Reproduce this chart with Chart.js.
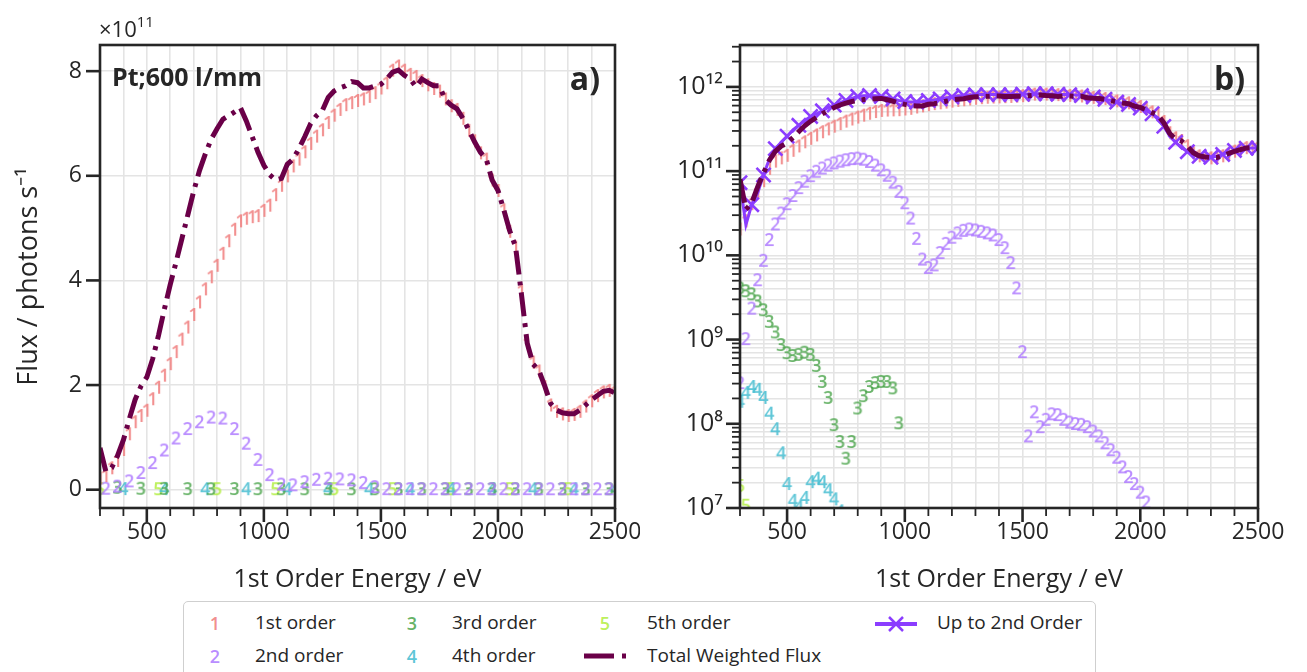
<!DOCTYPE html>
<html><head><meta charset="utf-8">
<script src="https://cdn.jsdelivr.net/npm/chart.js"></script>
<style>
html,body{margin:0;padding:0;background:#fff}
body{width:1307px;height:672px;overflow:hidden;position:relative;font-family:'Open Sans',sans-serif;color:#262626}
canvas.chart{position:absolute;top:0}
.t{position:absolute;white-space:nowrap;line-height:1}
.lg{position:absolute;white-space:nowrap;line-height:1;font-size:19px}
.mk{position:absolute;width:20px;text-align:center;line-height:1;font-size:18px;font-weight:600}
</style></head><body>
<canvas id="left" class="chart" width="640" height="600" style="left:0"></canvas>
<canvas id="right" class="chart" width="667" height="600" style="left:640px"></canvas>

<div class="t" style="left:99px;top:17px;font-size:22px">×10<span style="font-size:15px;position:relative;top:-10px">11</span></div>
<div class="t" style="left:112px;top:64px;font-size:25px;font-weight:700">Pt;600 l/mm</div>
<div class="t" style="right:707px;top:62px;font-size:32px;font-weight:700">a)</div>
<div class="t" style="right:62px;top:62px;font-size:32px;font-weight:700">b)</div>

<div style="position:absolute;left:183px;top:601px;width:911px;height:90px;border:1.5px solid #cfcfcf;border-radius:5px;background:#fff"></div>
<div class="mk" style="left:205px;top:614px;color:rgba(240,128,128,0.9)">1</div>
<div class="lg" style="left:255px;top:613px">1st order</div>
<div class="mk" style="left:402px;top:614px;color:rgba(76,165,76,0.85)">3</div>
<div class="lg" style="left:452px;top:613px">3rd order</div>
<div class="mk" style="left:595px;top:614px;color:rgba(180,238,70,0.9)">5</div>
<div class="lg" style="left:647px;top:613px">5th order</div>
<svg style="position:absolute;left:873px;top:613px" width="46" height="22"><line x1="2" y1="11" x2="44" y2="11" stroke="#8b3dff" stroke-width="4"/><line x1="16" y1="4" x2="30" y2="18" stroke="#8b3dff" stroke-width="2.5"/><line x1="16" y1="18" x2="30" y2="4" stroke="#8b3dff" stroke-width="2.5"/></svg>
<div class="lg" style="left:937px;top:613px">Up to 2nd Order</div>
<div class="mk" style="left:205px;top:647px;color:rgba(176,125,255,0.9)">2</div>
<div class="lg" style="left:255px;top:646px">2nd order</div>
<div class="mk" style="left:402px;top:647px;color:rgba(72,190,210,0.9)">4</div>
<div class="lg" style="left:452px;top:646px">4th order</div>
<svg style="position:absolute;left:582px;top:645px" width="50" height="22"><line x1="2" y1="11" x2="32" y2="11" stroke="#6a0048" stroke-width="5"/><line x1="40" y1="11" x2="44" y2="11" stroke="#6a0048" stroke-width="5"/></svg>
<div class="lg" style="left:647px;top:646px">Total Weighted Flux</div>

<script>
// ---- data (flux values in units of 1e11 photons/s) ----
const energies = [300,325,350,375,400,425,450,475,500,525,550,575,600,625,650,675,700,725,750,775,800,825,850,875,900,925,950,975,1000,1025,1050,1075,1100,1125,1150,1175,1200,1225,1250,1275,1300,1325,1350,1375,1400,1425,1450,1475,1500,1525,1550,1575,1600,1625,1650,1675,1700,1725,1750,1775,1800,1825,1850,1875,1900,1925,1950,1975,2000,2025,2050,2075,2100,2125,2150,2175,2200,2225,2250,2275,2300,2325,2350,2375,2400,2425,2450,2475,2500];

const totalFlux = [0.80,0.35,0.42,0.65,0.95,1.35,1.72,1.98,2.15,2.50,
  2.95,3.45,3.92,4.35,4.80,5.25,5.70,6.10,6.42,6.70,
  6.90,7.08,7.15,7.22,7.30,7.05,6.75,6.45,6.20,6.02,
  5.92,5.95,6.22,6.32,6.52,6.75,7.00,7.15,7.25,7.50,
  7.62,7.68,7.72,7.80,7.78,7.68,7.68,7.72,7.75,7.85,
  7.98,8.02,7.92,7.85,7.70,7.85,7.78,7.72,7.72,7.45,
  7.35,7.28,7.10,6.88,6.65,6.45,6.32,5.92,5.72,5.35,
  4.95,4.65,3.75,2.80,2.40,2.28,1.98,1.65,1.52,1.47,
  1.45,1.45,1.52,1.62,1.72,1.80,1.88,1.90,1.85];

const upToSecond = [0.73,0.23,0.40,0.55,0.90,1.40,1.85,2.20,2.60,3.10,
  3.50,4.00,4.45,4.80,5.20,5.70,6.10,6.50,6.90,7.30,
  7.70,7.85,7.90,7.85,7.70,7.50,7.20,6.90,6.70,6.60,
  6.60,6.70,6.90,7.00,7.20,7.40,7.60,7.80,7.90,8.00,
  8.05,8.10,8.10,8.10,8.10,8.10,8.10,8.15,8.20,8.25,
  8.30,8.30,8.30,8.25,8.20,8.15,8.10,8.00,7.90,7.75,
  7.60,7.40,7.15,6.90,6.60,6.40,6.20,5.90,5.60,5.20,
  4.80,4.30,3.40,2.60,2.20,1.90,1.70,1.55,1.50,1.47,
  1.46,1.50,1.58,1.68,1.76,1.83,1.87,1.88,1.88];

const firstOrder = [0.20,0.25,0.40,0.54,0.75,1.05,1.28,1.40,1.50,1.72,
  1.94,2.17,2.39,2.62,2.86,3.09,3.33,3.57,3.82,4.05,
  4.27,4.50,4.74,4.96,5.12,5.17,5.20,5.22,5.32,5.42,
  5.62,5.80,5.98,6.17,6.30,6.44,6.60,6.74,6.86,7.00,
  7.14,7.25,7.34,7.38,7.42,7.45,7.50,7.57,7.66,7.76,
  8.00,8.08,8.00,7.92,7.88,7.80,7.72,7.65,7.60,7.45,
  7.32,7.25,7.08,6.85,6.65,6.42,6.30,5.90,5.70,5.33,
  4.92,4.62,3.78,2.78,2.42,2.25,1.95,1.60,1.48,1.43,
  1.40,1.42,1.48,1.58,1.68,1.78,1.85,1.88,1.85];

const secondOrder = [0.003,0.010,0.023,0.050,0.085,0.15,0.23,0.31,0.40,0.50,
  0.62,0.74,0.86,0.97,1.06,1.15,1.22,1.28,1.33,1.37,
  1.39,1.35,1.27,1.15,1.01,0.87,0.72,0.56,0.41,0.27,
  0.155,0.088,0.070,0.075,0.105,0.135,0.16,0.18,0.193,0.20,
  0.195,0.188,0.18,0.17,0.15,0.12,0.08,0.04,0.007,0.0007,
  0.00135,0.0009,0.0011,0.00128,0.00125,0.0011,0.00102,0.00098,0.00096,0.0009,
  0.0008,0.0007,0.00058,0.00048,0.00039,0.0003,0.00023,0.00019,0.00015,0.000115,
  0.00008,0.00006,0.00005,0.00004,0.00003,0,0,0,0,0,
  0,0,0,0,0,0,0,0,0];

const thirdOrder = [0.040,0.037,0.034,0.028,0.022,0.016,0.012,0.0085,0.0068,0.0063,
  0.0065,0.0069,0.0065,0.0048,0.0031,0.0020,0.00095,0.0006,0.00038,0.0006,
  0.0015,0.0021,0.0027,0.0030,0.0031,0.0031,0.0026,0.0010,0.00006,0,
  0,0,0,0,0,0,0,0,0,0,
  0,0,0,0,0,0,0,0,0,0,
  0,0,0,0,0,0,0,0,0,0,
  0,0,0,0,0,0,0,0,0,0,
  0,0,0,0,0,0,0,0,0,0,
  0,0,0,0,0,0,0,0,0];

const fourthOrder = [0.0018,0.0023,0.0027,0.0025,0.0020,0.0013,0.00085,0.00044,0.00019,0.00012,
  0.00010,0.00013,0.00020,0.00022,0.00020,0.00016,0.000125,0.00009,0,0,
  0,0,0,0,0,0,0,0,0,0,
  0,0,0,0,0,0,0,0,0,0,
  0,0,0,0,0,0,0,0,0,0,
  0,0,0,0,0,0,0,0,0,0,
  0,0,0,0,0,0,0,0,0,0,
  0,0,0,0,0,0,0,0,0,0,
  0,0,0,0,0,0,0,0,0];

const fifthOrder = [0.00018,0.000105,0,0,0,0,0,0,0,0,
  0,0,0,0,0,0,0,0,0,0,
  0,0,0,0,0,0,0,0,0,0,
  0,0,0,0,0,0,0,0,0,0,
  0,0,0,0,0,0,0,0,0,0,
  0,0,0,0,0,0,0,0,0,0,
  0,0,0,0,0,0,0,0,0,0,
  0,0,0,0,0,0,0,0,0,0,
  0,0,0,0,0,0,0,0,0];

// ticks
const xTickValues = [300,400,500,600,700,800,900,1000,1100,1200,1300,1400,1500,1600,1700,1800,1900,2000,2100,2200,2300,2400,2500];
const xTickLabels = [500,1000,1500,2000,2500];
const leftYTicks = [0,2,4,6,8];
const logDecades = [1e-4,1e-3,1e-2,1e-1,1,10];      // 10^7 ... 10^12 photons/s
const logMinorSteps = [2,3,4,5,6,7,8,9];
const unitExponent = 11;

// ---- styling ----
const INK = '#262626';
const GRID = '#e4e4e4';
const C = {
  o1:'rgba(240,128,128,0.88)', o2:'rgba(176,125,255,0.88)', o3:'rgba(76,165,76,0.82)',
  o4:'rgba(72,190,210,0.88)', o5:'rgba(180,238,70,0.9)', total:'#6a0048', up2:'#8b3dff'
};
Chart.defaults.font.family = "'Open Sans', sans-serif";
Chart.defaults.color = INK;

function glyph(ch, color){
  const c = document.createElement('canvas');
  c.width = 15; c.height = 19;
  const g = c.getContext('2d');
  g.font = "600 18px 'Open Sans'";
  g.textAlign = 'center'; g.textBaseline = 'middle';
  g.fillStyle = color;
  g.fillText(ch, 7.5, 10);
  return c;
}
const G = {1:glyph('1',C.o1),2:glyph('2',C.o2),3:glyph('3',C.o3),4:glyph('4',C.o4),5:glyph('5',C.o5)};

function pts(vals, keep){
  const out = [];
  energies.forEach((e,i)=>{ if(keep(i, vals[i])) out.push({x:e, y:vals[i]}); });
  return out;
}
function markerSet(label, vals, g, keep, order){
  return {label, data: pts(vals, keep), showLine:false, pointStyle:g, pointRadius:3, pointHoverRadius:3, order, clip:0};
}
function totalSet(order){
  return {label:'Total Weighted Flux', data: pts(totalFlux, ()=>true), borderColor:C.total, borderWidth:5,
    borderDash:[24,7,4,7], borderCapStyle:'butt', pointRadius:0, tension:0, order, fill:false};
}

const supMap = {'0':'⁰','1':'¹','2':'²','3':'³','4':'⁴','5':'⁵','6':'⁶','7':'⁷','8':'⁸','9':'⁹','-':'⁻'};
function isDecade(v){ const l = Math.log10(v); return Math.abs(l - Math.round(l)) < 1e-6; }
function decadeLabel(v){ const e = String(Math.round(Math.log10(v)) + unitExponent); return '10' + e.split('').map(c=>supMap[c]).join(''); }

function framePlugin(yMajor){
  return {
    id:'frame',
    afterDraw(chart){
      const {ctx, chartArea:a, scales} = chart;
      ctx.save();
      ctx.strokeStyle = INK;
      scales.x.ticks.forEach(t=>{
        const px = scales.x.getPixelForValue(t.value);
        const major = xTickLabels.includes(t.value);
        ctx.lineWidth = major ? 2.6 : 1.8;
        ctx.beginPath(); ctx.moveTo(px, a.bottom); ctx.lineTo(px, a.bottom + (major ? 14 : 8)); ctx.stroke();
      });
      scales.y.ticks.forEach(t=>{
        const py = scales.y.getPixelForValue(t.value);
        const major = yMajor(t.value);
        ctx.lineWidth = major ? 2.6 : 1.8;
        ctx.beginPath(); ctx.moveTo(a.left, py); ctx.lineTo(a.left - (major ? 14 : 8), py); ctx.stroke();
      });
      ctx.lineWidth = 2.6;
      ctx.strokeRect(a.left, a.top, a.right - a.left, a.bottom - a.top);
      ctx.restore();
    }
  };
}

function xScale(){
  return {
    type:'linear', min:300, max:2500,
    afterBuildTicks: s => { s.ticks = xTickValues.map(v=>({value:v})); },
    ticks:{autoSkip:false, maxRotation:0, padding:11, font:{size:23}, color:INK,
      callback: v => xTickLabels.includes(v) ? String(v) : ''},
    grid:{color:GRID, lineWidth:1.6, drawTicks:false},
    border:{display:false},
    title:{display:true, text:'1st Order Energy / eV', font:{size:25}, color:INK, padding:{top:0,bottom:5}},
    afterFit: s => { s.height = 92; s.paddingLeft = 0; s.paddingRight = 0; }
  };
}

// ---- left chart (linear) ----
new Chart(document.getElementById('left'), {
  type:'line',
  data:{datasets:[
    totalSet(0),
    markerSet('1st order', firstOrder, G[1], ()=>true, 1),
    markerSet('2nd order', secondOrder, G[2], i=>i%2===1, 2),
    markerSet('3rd order', thirdOrder, G[3], i=>i%4===3, 3),
    markerSet('4th order', fourthOrder, G[4], i=>i%7===4, 4),
    markerSet('5th order', fifthOrder, G[5], i=>i%10===0, 5)
  ]},
  options:{
    responsive:false, animation:false, devicePixelRatio:1,
    layout:{padding:{left:0,right:25,top:45,bottom:0}},
    plugins:{legend:{display:false}, tooltip:{enabled:false}},
    scales:{
      x: xScale(),
      y:{
        type:'linear', min:-0.35, max:8.5,
        afterBuildTicks: s => { s.ticks = leftYTicks.map(v=>({value:v})); },
        ticks:{autoSkip:false, padding:18, font:{size:23}, color:INK, callback: v => String(v)},
        grid:{color:GRID, lineWidth:1.6, drawTicks:false},
        border:{display:false},
        title:{display:true, text:'Flux / photons s⁻¹', font:{size:27}, color:INK, padding:{top:13,bottom:0}},
        afterFit: s => { s.width = 100; s.paddingTop = 0; s.paddingBottom = 0; }
      }
    }
  },
  plugins:[framePlugin(()=>true)]
});

// ---- right chart (log) ----
const logMax = 31.45;
const logTicks = [];
logDecades.forEach(d=>{ logTicks.push(d); logMinorSteps.forEach(m=>{ if(d*m <= logMax) logTicks.push(d*m); }); });
const pos = (i,v) => v > 0;

new Chart(document.getElementById('right'), {
  type:'line',
  data:{datasets:[
    totalSet(0),
    {label:'Up to 2nd Order', data: pts(upToSecond, ()=>true), borderColor:C.up2, borderWidth:3,
      pointStyle:'crossRot', pointRadius: c => c.dataIndex%2===0 ? 10 : 0, pointBorderWidth:2.6,
      pointBorderColor:C.up2, pointBackgroundColor:C.up2, tension:0, order:1, fill:false},
    markerSet('1st order', firstOrder, G[1], pos, 2),
    markerSet('2nd order', secondOrder, G[2], pos, 3),
    markerSet('3rd order', thirdOrder, G[3], pos, 4),
    markerSet('4th order', fourthOrder, G[4], pos, 5),
    markerSet('5th order', fifthOrder, G[5], pos, 6)
  ]},
  options:{
    responsive:false, animation:false, devicePixelRatio:1,
    layout:{padding:{left:0,right:49,top:45,bottom:0}},
    plugins:{legend:{display:false}, tooltip:{enabled:false}},
    scales:{
      x: xScale(),
      y:{
        type:'logarithmic', min:1e-4, max:logMax,
        afterBuildTicks: s => { s.ticks = logTicks.map(v=>({value:v})); },
        ticks:{autoSkip:false, padding:17, font:{size:25}, color:INK, callback: v => isDecade(v) ? decadeLabel(v) : ''},
        grid:{color:GRID, lineWidth:1.6, drawTicks:false},
        border:{display:false},
        afterFit: s => { s.width = 100; s.paddingTop = 0; s.paddingBottom = 0; }
      }
    }
  },
  plugins:[framePlugin(isDecade)]
});
</script>
</body></html>
